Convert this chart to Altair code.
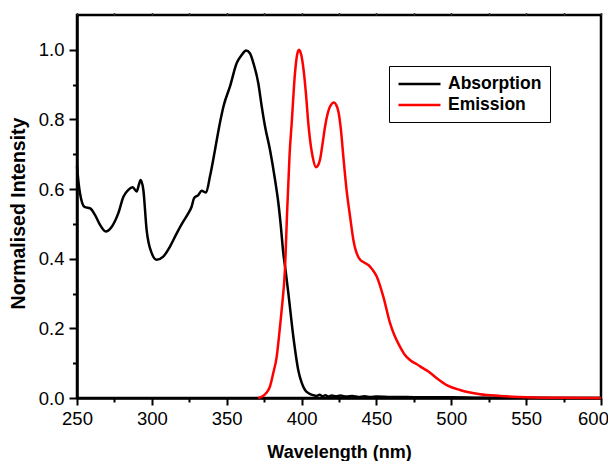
import altair as alt
import pandas as pd

# Absorption spectrum (black)
abs_wl = [250, 251, 252, 253.5, 255.3, 258.7, 262, 265.4, 269.2, 273.2, 277.6, 281, 284.3,
          287.2, 289.9, 291.3, 292.5, 294.3, 296.5, 299.9, 303.2, 307.6, 312.1, 316.6, 321,
          324.4, 326.6, 328.2, 331, 333.3, 336.2, 338.8, 342.2, 345, 348, 352.2, 356.7, 360,
          362.9, 365.5, 367.8, 371.1, 373.4, 375.6, 378.9, 382.3, 384.5, 386, 387.8, 389.5,
          391.2, 394.5, 397.8, 400, 402.3, 405, 407.9, 410, 412, 414, 416, 418, 420, 423, 426,
          430, 434, 438, 442, 446, 450, 460, 470, 480, 500, 520, 540, 570, 600]
abs_val = [0.665, 0.62, 0.588, 0.56, 0.548, 0.545, 0.526, 0.497, 0.478, 0.492, 0.531, 0.578, 0.598,
           0.605, 0.593, 0.612, 0.626, 0.598, 0.483, 0.416, 0.397, 0.406, 0.435, 0.473, 0.507,
           0.531, 0.55, 0.574, 0.583, 0.595, 0.59, 0.636, 0.713, 0.78, 0.84, 0.895, 0.962, 0.985,
           0.998, 0.99, 0.962, 0.904, 0.837, 0.78, 0.713, 0.626, 0.56, 0.50, 0.416, 0.36,
           0.30, 0.176, 0.08, 0.045, 0.023, 0.013, 0.008, 0.006, 0.009, 0.005, 0.008, 0.004, 0.007, 0.005, 0.007,
           0.004, 0.006, 0.003, 0.005, 0.003, 0.004, 0.003, 0.003, 0.002, 0.002, 0.001, 0.001, 0.0, 0.0]

# Emission spectrum (red)
em_wl = [371, 374, 376.5, 378.9, 381, 383.4, 385, 386.7, 389, 390.3, 392, 393.4, 395.6, 397,
         398.3, 399.8, 401.6, 403, 404.5, 407.4, 409.7, 411, 412.3, 414, 415.7, 419, 421.7, 423,
         424.6, 426.3, 427.9, 430, 432.4, 434.6, 437.9, 439, 441.5, 444.6, 447.5, 450.2, 454.6,
         459.1, 462, 465.8, 468.8, 472.4, 477, 481.3, 484.7, 490.3, 497, 505.8, 519.2, 532.6,
         550.4, 575, 600]
em_val = [0.0, 0.005, 0.015, 0.033, 0.07, 0.119, 0.18, 0.253, 0.377, 0.53, 0.70, 0.789, 0.933, 0.985,
          1.0, 0.985, 0.933, 0.87, 0.789, 0.693, 0.663, 0.668, 0.684, 0.73, 0.78, 0.837, 0.849, 0.843,
          0.823, 0.77, 0.693, 0.60, 0.521, 0.454, 0.405, 0.398, 0.39, 0.382, 0.368, 0.349, 0.291,
          0.215, 0.18, 0.147, 0.125, 0.109, 0.097, 0.085, 0.076, 0.057, 0.037, 0.023, 0.011, 0.006,
          0.002, 0.0005, 0.0]

series_names = ["Absorption", "Emission"]
series_colors = ["#000000", "#ff0000"]

x_ticks = [250 + 25 * i for i in range(15)]
y_ticks = [round(0.1 * i, 1) for i in range(11)]

df = pd.concat([
    pd.DataFrame({"wl": abs_wl, "v": abs_val, "series": series_names[0], "order": range(len(abs_wl))}),
    pd.DataFrame({"wl": em_wl, "v": em_val, "series": series_names[1], "order": range(len(em_wl))}),
])

FONT = "Liberation Sans"

x_scale = alt.Scale(domain=[250, 600], nice=False, zero=False)
y_scale = alt.Scale(domain=[0, 1.1], nice=False, zero=True)

lines = alt.Chart(df).mark_line(strokeWidth=2.5, interpolate="monotone").encode(
    x=alt.X("wl:Q", scale=x_scale,
            axis=alt.Axis(values=x_ticks, orient="bottom", labelFlush=False,
                          labelExpr="datum.value % 50 === 0 ? datum.label : ''",
                          labelOffset={"condition": {"test": "datum.value >= 600", "value": -8}, "value": 0},
                          tickSize={"condition": {"test": "datum.value % 50 === 0", "value": 7}, "value": 4},
                          tickWidth=2, tickColor="black", domainWidth=2.5, domainColor="black",
                          labelFont=FONT, labelFontSize=18.5, labelColor="black", labelPadding=4,
                          title="Wavelength (nm)", titleFont=FONT, titleFontSize=18,
                          titleFontWeight="bold", titleColor="black",
                          titleBaseline="alphabetic", titleY=59, grid=False)),
    y=alt.Y("v:Q", scale=y_scale,
            axis=alt.Axis(values=y_ticks, format=".1f", labelFlush=False,
                          labelExpr="round(datum.value*10) % 2 === 0 ? datum.label : ''",
                          tickSize={"condition": {"test": "round(datum.value*10) % 2 === 0", "value": 8}, "value": 4.5},
                          tickWidth=2, tickColor="black", domainWidth=2.5, domainColor="black",
                          labelFont=FONT, labelFontSize=18.5, labelColor="black", labelPadding=5,
                          title="Normalised Intensity", titleFont=FONT, titleFontSize=19.5,
                          titleFontWeight="bold", titleColor="black",
                          titleX=-59, titleY=198, titleBaseline="middle", titleAngle=270, grid=False)),
    color=alt.Color("series:N", scale=alt.Scale(domain=series_names, range=series_colors),
                    legend=alt.Legend(title=None, orient="none", legendX=312, legendY=51,
                                      symbolType="M-1,0L3.94,0", symbolSize=289, symbolStrokeWidth=2.5,
                                      labelOffset=31, labelFont=FONT, labelFontSize=17.5,
                                      labelFontWeight="bold", labelColor="black",
                                      strokeColor="black", fillColor="white", padding=8,
                                      rowPadding=2)),
    order="order:Q",
)

top_axis = alt.Chart(df).mark_line(opacity=0).encode(
    x=alt.X("wl:Q", scale=x_scale,
            axis=alt.Axis(orient="top", values=x_ticks, labels=False, tickSize=2.5, tickWidth=1.5,
                          tickColor="#333333", domain=False, title=None, grid=False)),
    y=alt.Y("v:Q", scale=y_scale, axis=None),
    detail="series:N",
)

chart = alt.layer(lines, top_axis).resolve_axis(x="independent", y="independent").properties(
    width=524, height=383,
    autosize=alt.AutoSizeParams(type="none"),
    padding={"left": 69, "top": 7, "right": 7, "bottom": 63},
    background="white",
).configure_view(stroke="black", strokeWidth=2.5)

chart.save("out.html", embed_options={"renderer": "svg", "actions": False})
